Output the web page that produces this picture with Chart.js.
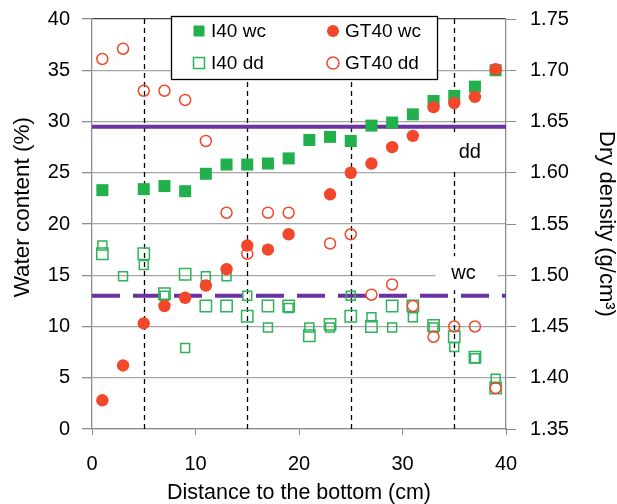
<!DOCTYPE html>
<html lang="en">

<head>
    <meta charset="UTF-8">
    <title>Water content and dry density</title>
    <script src="https://cdn.jsdelivr.net/npm/chart.js"></script>
    <style>
        body {
            margin: 0;
            background: #fff;
        }

        canvas {
            display: block;
        }
    </style>
</head>

<body>
    <canvas id="profileChart" width="617" height="504"></canvas>

    <script>
        // sample positions (cm from the bottom)
        const positions = [1, 3, 5, 7, 9, 11, 13, 15, 17, 19, 21, 23, 25, 27, 29, 31, 33, 35, 37, 39];

        // water content (%)
        const i40Wc = [23.3, null, 23.4, 23.7, 23.2, 24.9, 25.8, 25.8, 25.9, 26.4, 28.2, 28.5, 28.1, 29.6, 29.9, 30.7, 32.0, 32.5, 33.4, 35.0];
        const gt40Wc = [2.8, 6.2, 10.3, 12.0, 12.8, 14.0, 15.6, 17.9, 17.5, 19.0, null, 22.9, 25.0, 25.9, 27.5, 28.6, 31.4, 31.8, 32.4, 35.1];

        // dry density (g/cm3) - I40 has two readings per slice
        const i40Dd = [1.521, null, 1.521, 1.482, 1.501, 1.470, 1.470, 1.460, 1.470, 1.470, 1.441, 1.452, 1.460, 1.450, 1.470, 1.470, 1.451, 1.440, 1.420, 1.390];
        const i40Dd2 = [1.529, 1.499, 1.510, 1.480, 1.429, 1.499, 1.499, 1.480, 1.449, 1.468, 1.449, 1.449, 1.480, 1.459, 1.449, 1.459, 1.449, 1.430, 1.419, 1.399];
        const gt40Dd = [1.711, 1.721, 1.680, 1.680, 1.671, 1.631, 1.561, 1.521, 1.561, 1.561, null, 1.531, 1.540, 1.481, 1.491, 1.470, 1.440, 1.450, 1.450, 1.390];

        // target values and section boundaries
        const ddTarget = 1.645;
        const wcTarget = 13;
        const sectionLines = [5, 15, 25, 35];
        const xTicks = [0, 10, 20, 30, 40];
        const wcTicks = [0, 5, 10, 15, 20, 25, 30, 35, 40];
        const ddTicks = [1.35, 1.40, 1.45, 1.50, 1.55, 1.60, 1.65, 1.70, 1.75];

        const GREEN = '#22B04C';
        const GREEN_LINE = '#2EB35A';
        const RED = '#F2472A';
        const PURPLE = '#6A32A2';
        const FONT = '"Liberation Sans", Arial, sans-serif';

        Chart.defaults.font.family = FONT;
        Chart.defaults.color = '#000';

        const toPoints = arr => positions.map((x, i) => ({ x: x, y: arr[i] }));
        const span = v => [{ x: xTicks[0], y: v }, { x: xTicks[xTicks.length - 1], y: v }];

        // keep the plot area fixed (no extra room for edge labels)
        const noPad = s => {
            s.paddingTop = 0;
            s.paddingBottom = 0;
            s.paddingLeft = 0;
            s.paddingRight = 0;
        };

        // dashed section lines, "dd"/"wc" labels and the boxed legend
        const overlay = {
            id: 'overlay',
            beforeDatasetsDraw(chart) {
                const { ctx, chartArea: a, scales: { x, y } } = chart;
                ctx.save();
                ctx.strokeStyle = '#000';
                ctx.lineWidth = 1.3;
                ctx.setLineDash([5, 4]);
                sectionLines.forEach(v => {
                    const px = Math.round(x.getPixelForValue(v)) + 0.5;
                    ctx.beginPath();
                    ctx.moveTo(px, a.bottom);
                    ctx.lineTo(px, a.top);
                    ctx.stroke();
                });
                ctx.setLineDash([]);
                ctx.font = '20px ' + FONT;
                ctx.textAlign = 'center';
                ctx.textBaseline = 'middle';
                [{ t: 'dd', x: 36.5, y: 27.0 }, { t: 'wc', x: 35.9, y: 15.2 }].forEach(l => {
                    const px = x.getPixelForValue(l.x);
                    const py = y.getPixelForValue(l.y);
                    ctx.fillStyle = '#fff';
                    ctx.fillRect(px - 28, py - 17, 62, 34);
                    ctx.fillStyle = '#000';
                    ctx.fillText(l.t, px, py);
                });
                ctx.restore();
            },
            afterDraw(chart) {
                const ctx = chart.ctx;
                const ds = chart.data.datasets;
                ctx.save();
                ctx.fillStyle = '#fff';
                ctx.fillRect(171, 16, 267, 64);
                ctx.strokeStyle = '#000';
                ctx.lineWidth = 1.3;
                ctx.strokeRect(171.5, 16.5, 266, 63);
                const items = [[0, 199, 31], [2, 333, 31], [1, 199, 63], [3, 333, 63]];
                ctx.font = '19px ' + FONT;
                ctx.textBaseline = 'middle';
                items.forEach(([i, mx, my]) => {
                    const d = ds[i];
                    ctx.fillStyle = d.backgroundColor;
                    ctx.strokeStyle = d.borderColor;
                    ctx.lineWidth = d.borderWidth;
                    ctx.beginPath();
                    if (d.pointStyle === 'rect') {
                        ctx.rect(mx - 5.5, my - 5.5, 11, 11);
                    } else {
                        ctx.arc(mx, my, 6, 0, Math.PI * 2);
                    }
                    ctx.fill();
                    if (d.borderWidth > 0) ctx.stroke();
                    ctx.fillStyle = '#000';
                    ctx.fillText(d.label, mx + 12, my + 1);
                });
                ctx.restore();
            }
        };

        const ctx = document.getElementById('profileChart').getContext('2d');
        new Chart(ctx, {
            type: 'scatter',
            data: {
                datasets: [{
                    label: 'I40 wc',
                    data: toPoints(i40Wc),
                    pointStyle: 'rect',
                    pointRadius: 8.5,
                    backgroundColor: GREEN,
                    borderColor: GREEN,
                    borderWidth: 0,
                    yAxisID: 'y',
                    order: 5
                }, {
                    label: 'I40 dd',
                    data: toPoints(i40Dd),
                    pointStyle: 'rect',
                    pointRadius: 8,
                    backgroundColor: 'rgba(255,255,255,0)',
                    borderColor: GREEN_LINE,
                    borderWidth: 1.5,
                    yAxisID: 'y2',
                    order: 3
                }, {
                    label: 'GT40 wc',
                    data: toPoints(gt40Wc),
                    pointStyle: 'circle',
                    pointRadius: 6.2,
                    backgroundColor: RED,
                    borderColor: RED,
                    borderWidth: 0,
                    yAxisID: 'y',
                    order: 2
                }, {
                    label: 'GT40 dd',
                    data: toPoints(gt40Dd),
                    pointStyle: 'circle',
                    pointRadius: 5.5,
                    backgroundColor: 'rgba(255,255,255,0)',
                    borderColor: RED,
                    borderWidth: 1.5,
                    yAxisID: 'y2',
                    order: 1
                }, {
                    label: 'I40 dd (2nd)',
                    data: toPoints(i40Dd2),
                    pointStyle: 'rect',
                    pointRadius: 6.3,
                    backgroundColor: 'rgba(255,255,255,0)',
                    borderColor: GREEN_LINE,
                    borderWidth: 1.5,
                    yAxisID: 'y2',
                    order: 4
                }, {
                    label: 'dd target',
                    type: 'line',
                    data: span(ddTarget),
                    borderColor: PURPLE,
                    borderWidth: 4,
                    pointRadius: 0,
                    yAxisID: 'y2',
                    order: 6
                }, {
                    label: 'wc target',
                    type: 'line',
                    data: span(wcTarget),
                    borderColor: PURPLE,
                    borderWidth: 4,
                    borderDash: [28, 13],
                    pointRadius: 0,
                    yAxisID: 'y',
                    order: 6
                }]
            },
            options: {
                responsive: false,
                animation: false,
                layout: { padding: { top: 19, left: 0, right: 0, bottom: 0 } },
                plugins: {
                    legend: { display: false },
                    tooltip: { enabled: false }
                },
                scales: {
                    x: {
                        type: 'linear',
                        position: 'bottom',
                        min: xTicks[0],
                        max: xTicks[xTicks.length - 1],
                        afterBuildTicks: s => { s.ticks = xTicks.map(v => ({ value: v })); },
                        ticks: { padding: 17, font: { size: 20 }, color: '#000' },
                        grid: { drawOnChartArea: false, tickLength: 6, color: '#8C8C8C' },
                        border: { color: '#8C8C8C', width: 1.3 },
                        title: {
                            display: true,
                            text: 'Distance to the bottom (cm)',
                            font: { size: 21.5, lineHeight: 1 },
                            padding: 0
                        },
                        afterFit: s => { s.height = 75; noPad(s); }
                    },
                    y: {
                        position: 'left',
                        min: wcTicks[0],
                        max: wcTicks[wcTicks.length - 1],
                        afterBuildTicks: s => { s.ticks = wcTicks.map(v => ({ value: v })); },
                        ticks: { padding: 12, font: { size: 20 }, color: '#000' },
                        grid: {
                            tickLength: 10,
                            lineWidth: 1.3,
                            color: c => (c.tick && c.tick.value === 40 ? '#404040' : '#A6A6A6'),
                            tickColor: '#8C8C8C'
                        },
                        border: { color: '#8C8C8C', width: 1.3 },
                        title: {
                            display: true,
                            // leading spaces nudge the title up a little, as in the original
                            text: '\u2002\u2002\u2002Water content (%)',
                            font: { size: 22.5, lineHeight: 1.2 },
                            padding: { top: 9, bottom: 0 }
                        },
                        afterFit: s => { s.width = 92; noPad(s); }
                    },
                    y2: {
                        position: 'right',
                        min: ddTicks[0],
                        max: ddTicks[ddTicks.length - 1],
                        afterBuildTicks: s => { s.ticks = ddTicks.map(v => ({ value: v })); },
                        ticks: {
                            padding: 14,
                            font: { size: 20 },
                            color: '#000',
                            callback: v => v.toFixed(2)
                        },
                        grid: { drawOnChartArea: false, tickLength: 10, color: '#8C8C8C' },
                        border: { color: '#8C8C8C', width: 1.3 },
                        title: {
                            display: true,
                            text: 'Dry density (g/cm³)',
                            font: { size: 22, lineHeight: 1 },
                            padding: 0
                        },
                        afterFit: s => { s.width = 111; noPad(s); }
                    }
                }
            },
            plugins: [overlay]
        });
    </script>
</body>

</html>
